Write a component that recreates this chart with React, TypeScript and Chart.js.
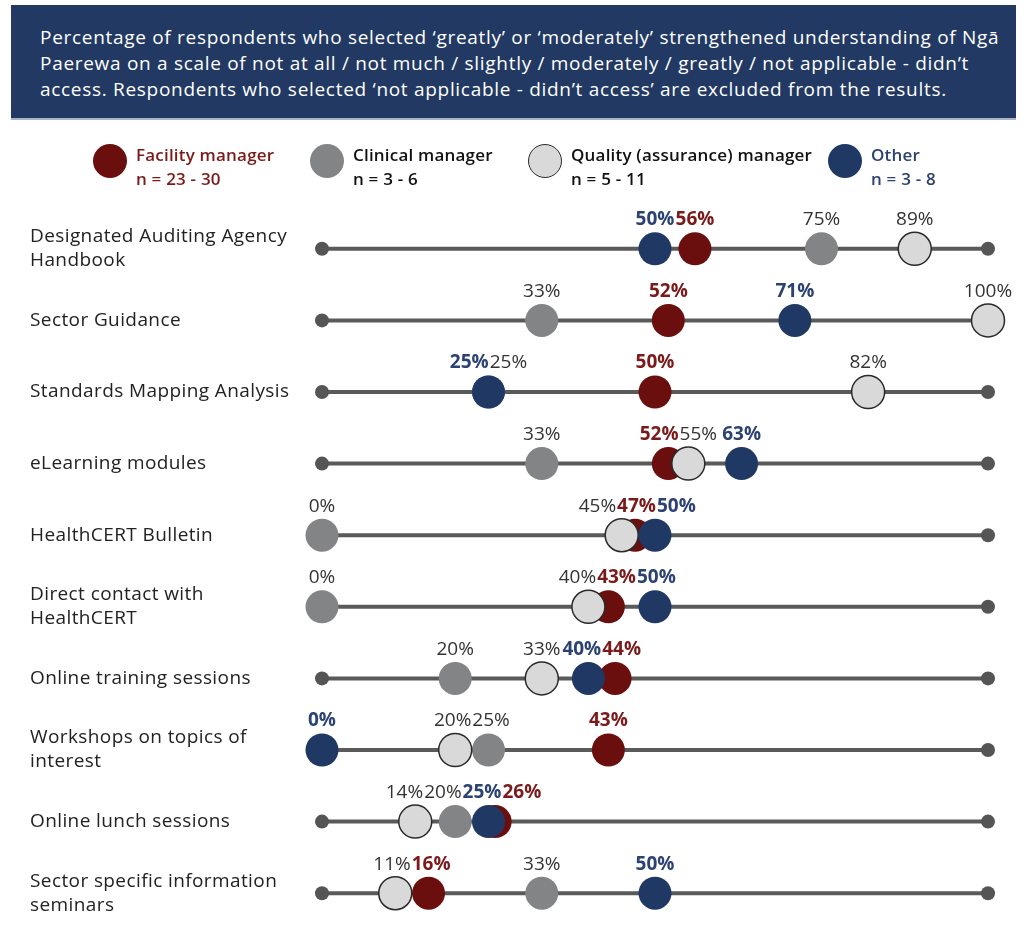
import React, { useEffect, useRef } from 'react';
import { Chart, registerables } from 'chart.js';

Chart.register(...registerables);

// ---------- data ----------
const categoryLines: string[][] = [
  ['Designated Auditing Agency', 'Handbook'],
  ['Sector Guidance'],
  ['Standards Mapping Analysis'],
  ['eLearning modules'],
  ['HealthCERT Bulletin'],
  ['Direct contact with', 'HealthCERT'],
  ['Online training sessions'],
  ['Workshops on topics of', 'interest'],
  ['Online lunch sessions'],
  ['Sector specific information', 'seminars'],
];
const categories = categoryLines.map((l) => l.join(' '));

const facilityManager = [56, 52, 50, 52, 47, 43, 44, 43, 26, 16];
const clinicalManager = [75, 33, 25, 33, 0, 0, 20, 25, 20, 33];
const qualityManager = [89, 100, 82, 55, 45, 40, 33, 20, 14, 11];
const otherRole = [50, 71, 25, 63, 50, 50, 40, 0, 25, 50];

const scaleMin = 0;
const scaleMax = 100;

const seriesNames = ['Facility manager', 'Clinical manager', 'Quality (assurance) manager', 'Other'];
const seriesCounts = ['n = 23 - 30', 'n = 3 - 6', 'n = 5 - 11', 'n = 3 - 8'];

const headerLines = [
  'Percentage of respondents who selected \u2018greatly\u2019 or \u2018moderately\u2019 strengthened understanding of Ng\u0101',
  'Paerewa on a scale of not at all / not much / slightly / moderately / greatly / not applicable - didn\u2019t',
  'access. Respondents who selected \u2018not applicable - didn\u2019t access\u2019 are excluded from the results.',
];

// ---------- styles ----------
const seriesValues = [facilityManager, clinicalManager, qualityManager, otherRole];
const seriesStyles = [
  { fill: '#6B0E0E', border: '#6B0E0E', bw: 0, text: '#7A1A1A', bold: true, legendText: '#7A1A1A' },
  { fill: '#838486', border: '#838486', bw: 0, text: '#333333', bold: false, legendText: '#111111' },
  { fill: '#D9D9D9', border: '#2A2A2A', bw: 1.5, text: '#333333', bold: false, legendText: '#111111' },
  { fill: '#1F3864', border: '#1F3864', bw: 0, text: '#2B4272', bold: true, legendText: '#2B4272' },
];
const legendX = [110, 327, 545, 845];

const spacingPlugin = {
  id: 'letterSpacing',
  beforeDraw(chart: any) {
    (chart.ctx as any).letterSpacing = '0.4px';
  },
};

const valueLabelPlugin = {
  id: 'valueLabels',
  afterDatasetsDraw(chart: any) {
    const ctx = chart.ctx as CanvasRenderingContext2D;
    const xs = chart.scales.x;
    const ys = chart.scales.y;
    const gap = 1;
    ctx.save();
    (ctx as any).letterSpacing = '0px';
    categories.forEach((_, row) => {
      const items: any[] = [];
      seriesValues.forEach((vals, si) => {
        const st = seriesStyles[si];
        const font = `${st.bold ? 'bold ' : ''}19px "Open Sans"`;
        ctx.font = font;
        const text = `${vals[row]}%`;
        items.push({ x: xs.getPixelForValue(vals[row]), text, font, color: st.text, w: ctx.measureText(text).width, si });
      });
      items.sort((a, b) => a.x - b.x || b.si - a.si);
      let clusters = items.map((it) => ({ items: [it], desired: [it.x] }));
      const widthOf = (c: any) => c.items.reduce((s: number, i: any) => s + i.w, 0) + gap * (c.items.length - 1);
      const centerOf = (c: any) => c.desired.reduce((a: number, b: number) => a + b, 0) / c.desired.length;
      let merged = true;
      while (merged) {
        merged = false;
        for (let i = 1; i < clusters.length; i++) {
          const a = clusters[i - 1];
          const b = clusters[i];
          if (centerOf(a) + widthOf(a) / 2 + gap > centerOf(b) - widthOf(b) / 2) {
            clusters.splice(i - 1, 2, { items: [...a.items, ...b.items], desired: [...a.desired, ...b.desired] });
            merged = true;
            break;
          }
        }
      }
      const y = ys.getPixelForValue(row) - 29;
      ctx.textBaseline = 'middle';
      ctx.textAlign = 'left';
      clusters.forEach((c) => {
        let x = centerOf(c) - widthOf(c) / 2;
        c.items.forEach((it: any) => {
          ctx.font = it.font;
          ctx.fillStyle = it.color;
          ctx.fillText(it.text, x, y);
          x += it.w + gap;
        });
      });
    });
    ctx.restore();
  },
};

function DotChart() {
  const ref = useRef<HTMLCanvasElement | null>(null);
  useEffect(() => {
    if (!ref.current) return;
    const lineSets = categories.map((cat) => ({
      type: 'scatter' as const,
      data: [
        { x: scaleMin, y: cat },
        { x: scaleMax, y: cat },
      ],
      showLine: true,
      borderColor: '#5A5A5A',
      borderWidth: 4,
      pointRadius: 7,
      pointBackgroundColor: '#555555',
      pointBorderWidth: 0,
      order: 10,
      clip: false as any,
    }));
    const dotSets = seriesValues.map((vals, si) => ({
      type: 'scatter' as const,
      label: seriesNames[si],
      data: vals.map((v, i) => ({ x: v, y: categories[i] })),
      pointRadius: 16.5,
      pointBackgroundColor: seriesStyles[si].fill,
      pointBorderColor: seriesStyles[si].border,
      pointBorderWidth: seriesStyles[si].bw,
      order: 4 - si,
      clip: false as any,
    }));
    const chart = new Chart(ref.current, {
      type: 'scatter',
      data: { labels: categories, datasets: [...lineSets, ...dotSets] as any },
      options: {
        animation: false,
        responsive: false,
        maintainAspectRatio: false,
        events: [],
        layout: { padding: { left: 30, top: 213, right: 36, bottom: 4 } },
        plugins: { legend: { display: false }, tooltip: { enabled: false } },
        scales: {
          x: { type: 'linear', min: scaleMin, max: scaleMax, display: false },
          y: {
            type: 'category',
            labels: categories,
            offset: true,
            grid: { display: false },
            border: { display: false },
            afterFit: (scale: any) => {
              scale.width = 292;
              scale.paddingTop = 0;
              scale.paddingBottom = 0;
            },
            ticks: {
              crossAlign: 'far',
              color: '#222222',
              font: { family: '"Open Sans"', size: 19, lineHeight: '24px' as any },
              callback: (_v: any, i: number) => categoryLines[i],
            },
          } as any,
        },
      },
      plugins: [spacingPlugin, valueLabelPlugin],
    });
    return () => chart.destroy();
  }, []);
  return (
    <canvas
      ref={ref}
      width={1024}
      height={947}
      style={{ position: 'absolute', left: 0, top: 0, width: 1024, height: 947 }}
    />
  );
}

export default function App() {
  return (
    <div style={{ position: 'fixed', left: 0, top: 0, width: 1024, height: 933, background: '#ffffff', overflow: 'hidden' }}>
      <div
        style={{
          position: 'absolute',
          left: 11,
          top: 5,
          width: 1005,
          height: 115,
          background: '#213963',
          borderBottom: '2px solid #A9B4CC',
          boxSizing: 'border-box',
          paddingLeft: 29,
          paddingTop: 19,
          color: '#ffffff',
          fontFamily: '"Open Sans", sans-serif',
          fontSize: 19,
          letterSpacing: '0.7px',
          lineHeight: '26px',
          zIndex: 2,
        }}
      >
        {headerLines.map((l, i) => (
          <div key={i} style={{ whiteSpace: 'nowrap' }}>
            {l}
          </div>
        ))}
      </div>
      {seriesNames.map((name, i) => (
        <div key={name} style={{ position: 'absolute', left: legendX[i] - 17, top: 144, zIndex: 2 }}>
          <div
            style={{
              position: 'absolute',
              left: 0,
              top: 0,
              width: 34,
              height: 34,
              borderRadius: '50%',
              background: seriesStyles[i].fill,
              border: seriesStyles[i].bw ? `1.5px solid ${seriesStyles[i].border}` : 'none',
              boxSizing: 'border-box',
            }}
          />
          <div
            style={{
              position: 'absolute',
              left: 43,
              top: -1,
              whiteSpace: 'nowrap',
              fontFamily: '"Open Sans", sans-serif',
              fontWeight: 600,
              fontSize: 17,
              letterSpacing: '0.2px',
              lineHeight: '24px',
              color: seriesStyles[i].legendText,
            }}
          >
            <div>{name}</div>
            <div>{seriesCounts[i]}</div>
          </div>
        </div>
      ))}
      <DotChart />
    </div>
  );
}
